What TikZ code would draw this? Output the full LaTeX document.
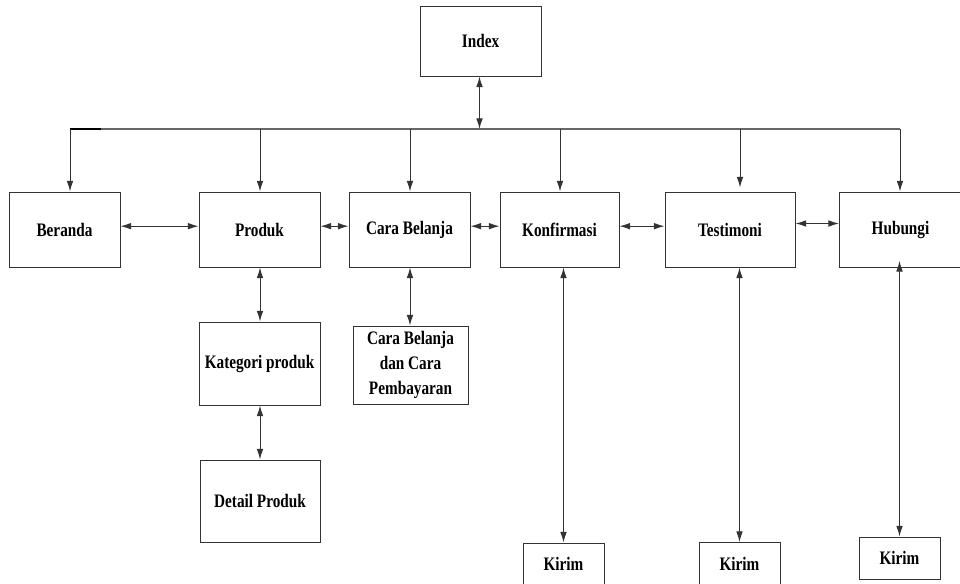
\documentclass[tikz,border=0pt]{standalone}
\usepackage{fontspec}
\newfontfamily\menufont[FakeStretch=0.8]{Liberation Serif}
\usepackage{tikz}
\usetikzlibrary{arrows.meta}
\usetikzlibrary{positioning}

\begin{document}
\begin{tikzpicture}[x=0.75pt,y=-0.75pt, >={Latex[length=8pt,width=5pt]},
  menu/.style 2 args={draw=black!80, line width=0.75pt, inner sep=0pt, align=center,
    minimum width=#1, minimum height=#2, font=\menufont\bfseries\fontsize{14.3}{19}\selectfont},
  link/.style={draw=black!80, line width=0.75pt}]
\useasboundingbox (0,0) rectangle (960,583);
\node[menu={90.75pt}{52.5pt}] (idx) at (480.5,41) {Index};
\node[menu={83.25pt}{56.25pt}] (ber) at (64.5,229.5) {Beranda};
\node[menu={90.75pt}{56.25pt}] (pro) at (259.5,229.5) {Produk};
\node[menu={90.75pt}{56.25pt}] (car) at (409.5,229.5) {Cara Belanja};
\node[menu={89.25pt}{56.25pt}] (kon) at (559.5,229.5) {Konfirmasi};
\node[menu={97.5pt}{56.25pt}] (tes) at (730,229.5) {Testimoni};
\node[menu={91.5pt}{56.25pt}] (hub) at (900.5,229.5) {Hubungi};
\node[menu={90.75pt}{62.25pt}] (kat) at (259.5,363.5) {Kategori produk};
\node[menu={86.25pt}{58.5pt}] (pem) at (410.5,365) {Cara Belanja\\dan Cara\\Pembayaran};
\node[menu={90pt}{61.5pt}] (det) at (260,501) {Detail Produk};
\node[menu={60.75pt}{31.5pt}] (kir1) at (563.5,564) {Kirim};
\node[menu={60.75pt}{31.5pt}] (kir2) at (739.5,563.5) {Kirim};
\node[menu={60.75pt}{31.5pt}] (kir3) at (899.5,558) {Kirim};
\coordinate (b0) at (70,129);
\coordinate (b1) at (260,129);
\coordinate (b2) at (410,129);
\coordinate (bi) at (479.5,129);
\coordinate (b3) at (560,129);
\coordinate (b4) at (740,129);
\coordinate (b5) at (900,129);
\draw[black!60, line width=1.5pt] (b0) -- (b5);
\draw[line width=1.5pt] (b0) -- ++(31,0);
\draw[link,<->] (idx.south -| bi) -- (bi);
\draw[link,->] (b0) -- (b0 |- ber.north);
\draw[link,->] (b1) -- (b1 |- pro.north);
\draw[link,->] (b2) -- (b2 |- car.north);
\draw[link,->] (b3) -- (b3 |- kon.north);
\draw[link,->,shorten >=3pt] (b4) -- (b4 |- tes.north);
\draw[link,->] (b5) -- (b5 |- hub.north);
\draw[link,<->] ([yshift=2.5pt]ber.east) -- ([yshift=2.5pt]pro.west);
\draw[link,<->] ([yshift=2.5pt]pro.east) -- ([yshift=2.5pt]car.west);
\draw[link,<->] ([yshift=2.5pt]car.east) -- ([yshift=2.5pt]kon.west);
\draw[link,<->] ([yshift=2.5pt]kon.east) -- ([yshift=2.5pt]tes.west);
\draw[link,<->] ([yshift=4.5pt]tes.east) -- ([yshift=4.5pt]hub.west);
\draw[link,<->] (pro.south -| b1) -- (kat.north -| b1);
\draw[link,<->] (car.south -| b2) -- (pem.north -| b2);
\draw[link,<->] (kat.south -| b1) -- (det.north -| b1);
\draw[link,<->] (kon.south -| kir1.north) -- (kir1.north);
\draw[link,<->] (tes.south -| kir2.north) -- (kir2.north);
\draw[link,<->] ([yshift=5pt]hub.south -| kir3.north) -- (kir3.north);
\end{tikzpicture}
\end{document}
